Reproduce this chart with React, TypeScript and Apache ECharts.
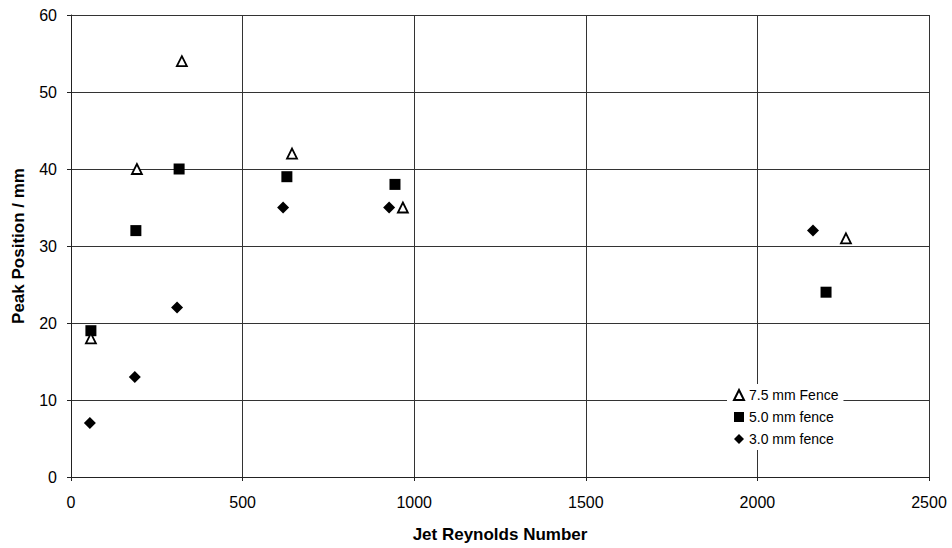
import React, { useEffect, useRef } from "react";
import * as echarts from "echarts";

const fence75X = [58, 192, 323, 644, 967, 2258];
const fence75Y = [18, 40, 54, 42, 35, 31];
const fence50X = [58, 189, 315, 629, 944, 2200];
const fence50Y = [19, 32, 40, 39, 38, 24];
const fence30X = [55, 186, 309, 618, 927, 2162];
const fence30Y = [7, 13, 22, 35, 35, 32];
const seriesNames = ["7.5 mm Fence", "5.0 mm fence", "3.0 mm fence"];

const zip = (xs: number[], ys: number[]) => xs.map((x, i) => [x, ys[i]]);

export default function App() {
  const ref = useRef<HTMLDivElement>(null);
  useEffect(() => {
    const chart = echarts.init(ref.current!, null, { renderer: "svg" });
    const font = "Liberation Sans, Arial, sans-serif";
    chart.setOption({
      animation: false,
      backgroundColor: "#fff",
      grid: { left: 71, right: 23, top: 15, bottom: 69, show: false },
      legend: {
        orient: "vertical",
        left: 727,
        top: 384,
        itemWidth: 10,
        itemHeight: 10,
        itemGap: 8,
        backgroundColor: "#fff",
        padding: [4, 5, 4, 6],
        textStyle: { fontFamily: font, fontSize: 14, color: "#000" },
        data: seriesNames,
      },
      xAxis: {
        type: "value",
        min: 0,
        max: 2500,
        interval: 500,
        name: "Jet Reynolds Number",
        nameLocation: "middle",
        nameGap: 49,
        nameTextStyle: { fontFamily: font, fontSize: 17, fontWeight: "bold", color: "#000" },
        axisLine: { show: true, lineStyle: { color: "#222", width: 1 } },
        axisTick: { show: true, length: 4, lineStyle: { color: "#222" } },
        axisLabel: { fontFamily: font, fontSize: 16, color: "#000", margin: 17, formatter: (v: number) => String(v) },
        splitLine: { show: true, lineStyle: { color: "#333", width: 1 } },
      },
      yAxis: {
        type: "value",
        min: 0,
        max: 60,
        interval: 10,
        name: "Peak Position / mm",
        nameLocation: "middle",
        nameGap: 44,
        nameTextStyle: { fontFamily: font, fontSize: 17, fontWeight: "bold", color: "#000" },
        axisLine: { show: true, lineStyle: { color: "#222", width: 1 } },
        axisTick: { show: true, length: 4, lineStyle: { color: "#222" } },
        axisLabel: { fontFamily: font, fontSize: 16, color: "#000", margin: 14 },
        splitLine: { show: true, lineStyle: { color: "#333", width: 1 } },
      },
      series: [
        {
          name: seriesNames[0],
          type: "scatter",
          symbol: "triangle",
          symbolSize: 10,
          itemStyle: { color: "#fff", borderColor: "#000", borderWidth: 1.8, opacity: 1 },
          data: zip(fence75X, fence75Y),
          z: 4,
        },
        {
          name: seriesNames[1],
          type: "scatter",
          symbol: "rect",
          symbolSize: 11,
          itemStyle: { color: "#000", opacity: 1 },
          data: zip(fence50X, fence50Y),
          z: 3,
        },
        {
          name: seriesNames[2],
          type: "scatter",
          symbol: "diamond",
          symbolSize: 12,
          itemStyle: { color: "#000", opacity: 1 },
          data: zip(fence30X, fence30Y),
          z: 3,
        },
      ],
    });
    return () => chart.dispose();
  }, []);
  return <div ref={ref} style={{ width: 952, height: 548, position: "absolute", left: 0, top: 0 }} />;
}
